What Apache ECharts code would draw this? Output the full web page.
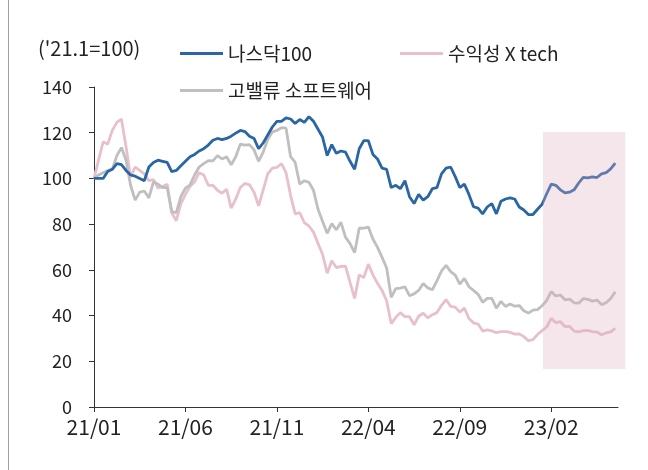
<!DOCTYPE html>
<html>
<head>
<meta charset="utf-8">
<script src="https://cdn.jsdelivr.net/npm/echarts@6/dist/echarts.min.js"></script>
<style>
html,body{margin:0;padding:0;background:#fff;}
#main{width:648px;height:470px;}
</style>
</head>
<body>
<div id="main"></div>
<script>
// x position of each point = index * STEP months after 2021-01 (weekly-ish samples)
const STEP = 0.25;
const xTickLabels = ['21/01', '21/06', '21/11', '22/04', '22/09', '23/02'];
const yTicks = [0, 20, 40, 60, 80, 100, 120, 140];
const seriesNames = ['나스닥100', '수익성 X tech', '고밸류 소프트웨어'];
const unitLabel = "('21.1=100)";

const nasdaq100 = [100,100,100,103,104,106.5,106,103.5,101.5,101,
  100,99,105,107,108,107.5,107,103,103.5,105.5,
  107.5,109.5,110.5,112,113,114.6,116.7,117.5,117,117.5,
  118.5,119.8,121,120.5,118.5,117.5,113,115.5,119,122.5,
  125,125,126.5,126,124,125.8,124.5,127,125,121.5,
  118,110,114.8,111,112,111.5,107.5,104,113,116.5,
  116.5,110.5,108.5,104.5,104,96,97,95.5,99,92,
  89,93,90.5,92,95.5,96,102,104.5,105,100.8,
  96,97.5,93,87.6,87,84.5,87.5,89,84.5,90,
  91,91.5,91,87.5,86.2,84.2,84.2,86.5,88.7,93.3,
  97.5,97,95,93.7,94,95,98,100.5,100.2,100.7,
  100.4,102,102.5,104.2,106.7];

const profitTech = [100,108,116,115,121,124.5,126,114,100.5,105,
  103.5,102,99,99.5,95.8,96.5,97.5,85,81.5,89,
  93,96.5,98.5,102.5,101.5,97,97,94.8,93.5,95.3,
  87,91,96,97.8,97.2,94,88,95,102,104.5,
  104.8,106.5,102.5,92.5,84.5,85,80.6,79.2,76.5,71.5,
  66.7,58.5,64,61,61.5,61.6,54.5,47.5,57.8,56.6,
  62.5,57.8,54.1,51,46.5,36.5,39.2,41.3,39.5,39.5,
  36,39.7,41,39,40.4,41.3,44.5,47,44,43.7,
  41.5,43.3,38.7,36.8,36.3,33.2,33.7,33.3,32.5,33,
  33,32.7,31.9,32,30.8,29,29.5,31.7,33.4,35,
  38.8,36.9,37.3,35.2,35.3,33.2,32.9,33.4,33.5,33,
  32.8,31.6,32.4,32.9,34.4];

const highValSW = [100,101.5,102.5,103.5,104,110,113.5,108,97,90.5,
  94,94.5,91.5,98.5,97.5,96,96,85.5,85,92,
  95.8,97.2,101.5,105,106.5,107.8,107.7,110,108.5,109.5,
  106,109.5,115,114.6,114.8,112.5,107.5,111.5,117,120.3,
  121,122.2,122,109.5,107,97.5,99,98.3,94.8,86.5,
  81.2,76,80.2,77.5,80.8,74.3,71.5,67.5,78.2,78.3,
  78.7,73.5,69.8,65.5,60.8,48,51.8,52,52.6,48.7,
  49.5,51,54,52.1,51.3,55.2,59.5,62,59.2,57.7,
  53.8,56.3,52.6,51,49.3,45.8,47.5,47.5,43.2,46.2,
  44,45.1,44.1,44.4,42.1,41.1,42.4,42.6,44.3,46.6,
  50.5,48.6,49,46.9,47.2,45.6,45.4,47.4,47.1,46.3,
  46.8,44.8,45.6,47.5,50.4];

// highlighted period (months after 2021-01, index values)
const shadeX = [24.55, 29.05];
const shadeY = [16.6, 120.3];

const FONT = "'Noto Sans CJK KR', 'Noto Sans', sans-serif";
const colors = ['#2a66a3', '#e7bfcd', '#bfbfbf'];

const toXY = arr => arr.map((v, i) => [i * STEP, v]);

const chart = echarts.init(document.getElementById('main'), null, {renderer: 'canvas'});

const legendBase = {
  icon: 'rect', itemWidth: 43, itemHeight: 3,
  textStyle: {fontFamily: FONT, fontSize: 19, color: '#222'},
  selectedMode: false
};

chart.setOption({
  animation: false,
  backgroundColor: '#fff',
  textStyle: {fontFamily: FONT},
  grid: {left: 94, right: 30, top: 87, bottom: 63, containLabel: false},
  legend: [
    Object.assign({}, legendBase, {data: [seriesNames[0]], left: 175, top: 39}),
    Object.assign({}, legendBase, {data: [seriesNames[1]], left: 395, top: 39}),
    Object.assign({}, legendBase, {data: [seriesNames[2]], left: 175, top: 76})
  ],
  xAxis: {
    type: 'value', min: 0, max: 28.65, interval: 5,
    axisLine: {show: true, lineStyle: {color: '#333', width: 1}},
    axisTick: {show: true, length: 5, lineStyle: {color: '#333'}},
    splitLine: {show: false},
    axisLabel: {
      fontFamily: FONT, fontSize: 21, color: '#222', margin: 10,
      showMaxLabel: false,
      formatter: v => xTickLabels[Math.round(v / 5)] || ''
    }
  },
  yAxis: {
    type: 'value', min: yTicks[0], max: yTicks[yTicks.length - 1], interval: 20,
    axisLine: {show: true, lineStyle: {color: '#333', width: 1}},
    axisTick: {show: true, length: 5, lineStyle: {color: '#333'}},
    splitLine: {show: false},
    axisLabel: {fontFamily: FONT, fontSize: 18, color: '#222', margin: 22}
  },
  series: [
    {name: seriesNames[1], type: 'line', data: toXY(profitTech), showSymbol: false, symbol: 'none',
     lineStyle: {color: colors[1], width: 2.8}, itemStyle: {color: colors[1]}, z: 2},
    {name: seriesNames[2], type: 'line', data: toXY(highValSW), showSymbol: false, symbol: 'none',
     lineStyle: {color: colors[2], width: 2.8}, itemStyle: {color: colors[2]}, z: 3},
    {name: seriesNames[0], type: 'line', data: toXY(nasdaq100), showSymbol: false, symbol: 'none',
     lineStyle: {color: colors[0], width: 2.8}, itemStyle: {color: colors[0]}, z: 4}
  ]
});

const p1 = chart.convertToPixel({gridIndex: 0}, [shadeX[0], shadeY[1]]);
const p2 = chart.convertToPixel({gridIndex: 0}, [shadeX[1], shadeY[0]]);

chart.setOption({
  graphic: [
    {type: 'rect', z: 100, silent: true,
     shape: {x: p1[0], y: p1[1], width: p2[0] - p1[0], height: p2[1] - p1[1]},
     style: {fill: 'rgba(222,172,192,0.3)'}},
    {type: 'text', left: 38, top: 38, silent: true,
     style: {text: unitLabel, font: '20px ' + FONT, fill: '#222'}},
    {type: 'line', silent: true, shape: {x1: 8.5, y1: 0, x2: 8.5, y2: 470},
     style: {stroke: '#a0a0a0', lineWidth: 1}}
  ]
});
</script>
</body>
</html>
